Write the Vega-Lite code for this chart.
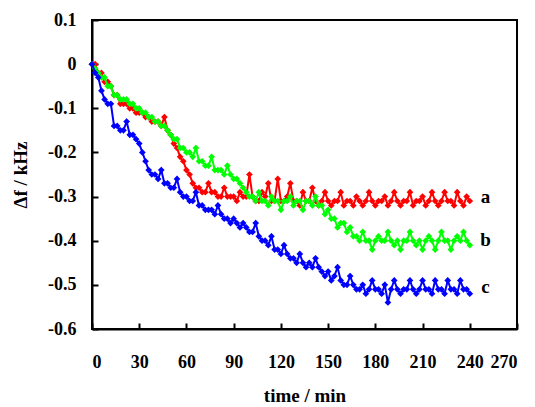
{
  "$schema": "https://vega.github.io/schema/vega-lite/v6.json",
  "width": 425,
  "height": 309,
  "autosize": "none",
  "padding": {"left": 92, "top": 20, "right": 18, "bottom": 78},
  "background": "white",
  "config": {
    "view": {"stroke": "black", "strokeWidth": 2},
    "axis": {
      "domainColor": "black", "domainWidth": 2, "tickColor": "black", "tickWidth": 2, "tickSize": -6,
      "grid": false, "labelFont": "Liberation Serif", "labelFontWeight": "bold", "labelFontSize": 18, "labelColor": "black",
      "titleFont": "Liberation Serif", "titleFontWeight": "bold", "titleFontSize": 19, "titleColor": "black"
    }
  },
  "datasets": {
    "a": [{"t":0,"v":0},{"t":2,"v":0},{"t":4,"v":-0.02},{"t":6,"v":-0.02},{"t":8,"v":-0.04},{"t":10,"v":-0.04},{"t":12,"v":-0.05},{"t":14,"v":-0.07},{"t":16,"v":-0.07},{"t":18,"v":-0.09},{"t":20,"v":-0.09},{"t":22,"v":-0.09},{"t":24,"v":-0.1},{"t":26,"v":-0.1},{"t":28,"v":-0.11},{"t":30,"v":-0.11},{"t":32,"v":-0.11},{"t":34,"v":-0.12},{"t":36,"v":-0.12},{"t":38,"v":-0.13},{"t":40,"v":-0.13},{"t":42,"v":-0.13},{"t":44,"v":-0.14},{"t":46,"v":-0.12},{"t":48,"v":-0.15},{"t":50,"v":-0.16},{"t":52,"v":-0.18},{"t":54,"v":-0.19},{"t":56,"v":-0.21},{"t":58,"v":-0.22},{"t":60,"v":-0.24},{"t":62,"v":-0.25},{"t":64,"v":-0.27},{"t":66,"v":-0.28},{"t":68,"v":-0.28},{"t":70,"v":-0.29},{"t":72,"v":-0.29},{"t":74,"v":-0.27},{"t":76,"v":-0.29},{"t":78,"v":-0.29},{"t":80,"v":-0.3},{"t":82,"v":-0.3},{"t":84,"v":-0.28},{"t":86,"v":-0.3},{"t":88,"v":-0.3},{"t":90,"v":-0.3},{"t":92,"v":-0.31},{"t":94,"v":-0.29},{"t":96,"v":-0.3},{"t":98,"v":-0.3},{"t":100,"v":-0.25},{"t":102,"v":-0.3},{"t":104,"v":-0.31},{"t":106,"v":-0.31},{"t":108,"v":-0.29},{"t":110,"v":-0.3},{"t":112,"v":-0.27},{"t":114,"v":-0.31},{"t":116,"v":-0.31},{"t":118,"v":-0.26},{"t":120,"v":-0.31},{"t":122,"v":-0.31},{"t":124,"v":-0.3},{"t":126,"v":-0.27},{"t":128,"v":-0.31},{"t":130,"v":-0.31},{"t":132,"v":-0.32},{"t":134,"v":-0.29},{"t":136,"v":-0.31},{"t":138,"v":-0.31},{"t":140,"v":-0.28},{"t":142,"v":-0.31},{"t":144,"v":-0.32},{"t":146,"v":-0.31},{"t":148,"v":-0.29},{"t":150,"v":-0.31},{"t":152,"v":-0.32},{"t":154,"v":-0.31},{"t":156,"v":-0.31},{"t":158,"v":-0.29},{"t":160,"v":-0.32},{"t":162,"v":-0.31},{"t":164,"v":-0.31},{"t":166,"v":-0.32},{"t":168,"v":-0.3},{"t":170,"v":-0.31},{"t":172,"v":-0.32},{"t":174,"v":-0.31},{"t":176,"v":-0.29},{"t":178,"v":-0.31},{"t":180,"v":-0.32},{"t":182,"v":-0.31},{"t":184,"v":-0.31},{"t":186,"v":-0.3},{"t":188,"v":-0.32},{"t":190,"v":-0.31},{"t":192,"v":-0.29},{"t":194,"v":-0.31},{"t":196,"v":-0.32},{"t":198,"v":-0.31},{"t":200,"v":-0.31},{"t":202,"v":-0.29},{"t":204,"v":-0.32},{"t":206,"v":-0.31},{"t":208,"v":-0.31},{"t":210,"v":-0.3},{"t":212,"v":-0.32},{"t":214,"v":-0.31},{"t":216,"v":-0.29},{"t":218,"v":-0.31},{"t":220,"v":-0.32},{"t":222,"v":-0.31},{"t":224,"v":-0.29},{"t":226,"v":-0.31},{"t":228,"v":-0.31},{"t":230,"v":-0.32},{"t":232,"v":-0.29},{"t":234,"v":-0.31},{"t":236,"v":-0.32},{"t":238,"v":-0.3},{"t":240,"v":-0.31}],
    "b": [{"t":0,"v":0},{"t":2,"v":-0.01},{"t":4,"v":-0.02},{"t":6,"v":-0.03},{"t":8,"v":-0.03},{"t":10,"v":-0.05},{"t":12,"v":-0.05},{"t":14,"v":-0.07},{"t":16,"v":-0.07},{"t":18,"v":-0.08},{"t":20,"v":-0.08},{"t":22,"v":-0.08},{"t":24,"v":-0.09},{"t":26,"v":-0.09},{"t":28,"v":-0.1},{"t":30,"v":-0.1},{"t":32,"v":-0.11},{"t":34,"v":-0.11},{"t":36,"v":-0.12},{"t":38,"v":-0.12},{"t":40,"v":-0.13},{"t":42,"v":-0.13},{"t":44,"v":-0.14},{"t":46,"v":-0.14},{"t":48,"v":-0.15},{"t":50,"v":-0.16},{"t":52,"v":-0.17},{"t":54,"v":-0.17},{"t":56,"v":-0.19},{"t":58,"v":-0.19},{"t":60,"v":-0.2},{"t":62,"v":-0.2},{"t":64,"v":-0.21},{"t":66,"v":-0.19},{"t":68,"v":-0.22},{"t":70,"v":-0.22},{"t":72,"v":-0.23},{"t":74,"v":-0.23},{"t":76,"v":-0.21},{"t":78,"v":-0.24},{"t":80,"v":-0.24},{"t":82,"v":-0.24},{"t":84,"v":-0.25},{"t":86,"v":-0.23},{"t":88,"v":-0.25},{"t":90,"v":-0.26},{"t":92,"v":-0.26},{"t":94,"v":-0.27},{"t":96,"v":-0.28},{"t":98,"v":-0.29},{"t":100,"v":-0.3},{"t":102,"v":-0.3},{"t":104,"v":-0.31},{"t":106,"v":-0.29},{"t":108,"v":-0.31},{"t":110,"v":-0.31},{"t":112,"v":-0.32},{"t":114,"v":-0.3},{"t":116,"v":-0.31},{"t":118,"v":-0.31},{"t":120,"v":-0.33},{"t":122,"v":-0.31},{"t":124,"v":-0.31},{"t":126,"v":-0.3},{"t":128,"v":-0.32},{"t":130,"v":-0.31},{"t":132,"v":-0.31},{"t":134,"v":-0.33},{"t":136,"v":-0.31},{"t":138,"v":-0.31},{"t":140,"v":-0.32},{"t":142,"v":-0.3},{"t":144,"v":-0.32},{"t":146,"v":-0.32},{"t":148,"v":-0.34},{"t":150,"v":-0.33},{"t":152,"v":-0.35},{"t":154,"v":-0.35},{"t":156,"v":-0.37},{"t":158,"v":-0.36},{"t":160,"v":-0.36},{"t":162,"v":-0.38},{"t":164,"v":-0.37},{"t":166,"v":-0.39},{"t":168,"v":-0.39},{"t":170,"v":-0.4},{"t":172,"v":-0.38},{"t":174,"v":-0.4},{"t":176,"v":-0.4},{"t":178,"v":-0.42},{"t":180,"v":-0.4},{"t":182,"v":-0.39},{"t":184,"v":-0.4},{"t":186,"v":-0.4},{"t":188,"v":-0.38},{"t":190,"v":-0.4},{"t":192,"v":-0.41},{"t":194,"v":-0.4},{"t":196,"v":-0.42},{"t":198,"v":-0.4},{"t":200,"v":-0.4},{"t":202,"v":-0.38},{"t":204,"v":-0.4},{"t":206,"v":-0.41},{"t":208,"v":-0.4},{"t":210,"v":-0.42},{"t":212,"v":-0.4},{"t":214,"v":-0.39},{"t":216,"v":-0.4},{"t":218,"v":-0.42},{"t":220,"v":-0.4},{"t":222,"v":-0.38},{"t":224,"v":-0.4},{"t":226,"v":-0.4},{"t":228,"v":-0.42},{"t":230,"v":-0.4},{"t":232,"v":-0.39},{"t":234,"v":-0.4},{"t":236,"v":-0.38},{"t":238,"v":-0.4},{"t":240,"v":-0.41}],
    "c": [{"t":0,"v":0},{"t":2,"v":-0.02},{"t":4,"v":-0.03},{"t":6,"v":-0.06},{"t":8,"v":-0.08},{"t":10,"v":-0.09},{"t":12,"v":-0.09},{"t":14,"v":-0.14},{"t":16,"v":-0.14},{"t":18,"v":-0.15},{"t":20,"v":-0.15},{"t":22,"v":-0.13},{"t":24,"v":-0.16},{"t":26,"v":-0.16},{"t":28,"v":-0.17},{"t":30,"v":-0.18},{"t":32,"v":-0.2},{"t":34,"v":-0.22},{"t":36,"v":-0.24},{"t":38,"v":-0.25},{"t":40,"v":-0.25},{"t":42,"v":-0.26},{"t":44,"v":-0.24},{"t":46,"v":-0.27},{"t":48,"v":-0.27},{"t":50,"v":-0.28},{"t":52,"v":-0.28},{"t":54,"v":-0.26},{"t":56,"v":-0.29},{"t":58,"v":-0.3},{"t":60,"v":-0.3},{"t":62,"v":-0.31},{"t":64,"v":-0.31},{"t":66,"v":-0.29},{"t":68,"v":-0.32},{"t":70,"v":-0.32},{"t":72,"v":-0.33},{"t":74,"v":-0.33},{"t":76,"v":-0.33},{"t":78,"v":-0.34},{"t":80,"v":-0.32},{"t":82,"v":-0.34},{"t":84,"v":-0.35},{"t":86,"v":-0.35},{"t":88,"v":-0.36},{"t":90,"v":-0.35},{"t":92,"v":-0.36},{"t":94,"v":-0.37},{"t":96,"v":-0.36},{"t":98,"v":-0.37},{"t":100,"v":-0.38},{"t":102,"v":-0.38},{"t":104,"v":-0.36},{"t":106,"v":-0.39},{"t":108,"v":-0.4},{"t":110,"v":-0.4},{"t":112,"v":-0.41},{"t":114,"v":-0.39},{"t":116,"v":-0.42},{"t":118,"v":-0.42},{"t":120,"v":-0.43},{"t":122,"v":-0.41},{"t":124,"v":-0.43},{"t":126,"v":-0.44},{"t":128,"v":-0.44},{"t":130,"v":-0.45},{"t":132,"v":-0.43},{"t":134,"v":-0.45},{"t":136,"v":-0.46},{"t":138,"v":-0.45},{"t":140,"v":-0.46},{"t":142,"v":-0.44},{"t":144,"v":-0.46},{"t":146,"v":-0.47},{"t":148,"v":-0.48},{"t":150,"v":-0.47},{"t":152,"v":-0.49},{"t":154,"v":-0.48},{"t":156,"v":-0.46},{"t":158,"v":-0.49},{"t":160,"v":-0.5},{"t":162,"v":-0.5},{"t":164,"v":-0.48},{"t":166,"v":-0.5},{"t":168,"v":-0.51},{"t":170,"v":-0.51},{"t":172,"v":-0.5},{"t":174,"v":-0.52},{"t":176,"v":-0.51},{"t":178,"v":-0.49},{"t":180,"v":-0.51},{"t":182,"v":-0.51},{"t":184,"v":-0.52},{"t":186,"v":-0.5},{"t":188,"v":-0.54},{"t":190,"v":-0.51},{"t":192,"v":-0.49},{"t":194,"v":-0.51},{"t":196,"v":-0.52},{"t":198,"v":-0.51},{"t":200,"v":-0.51},{"t":202,"v":-0.49},{"t":204,"v":-0.51},{"t":206,"v":-0.52},{"t":208,"v":-0.51},{"t":210,"v":-0.49},{"t":212,"v":-0.51},{"t":214,"v":-0.51},{"t":216,"v":-0.52},{"t":218,"v":-0.49},{"t":220,"v":-0.51},{"t":222,"v":-0.51},{"t":224,"v":-0.52},{"t":226,"v":-0.49},{"t":228,"v":-0.51},{"t":230,"v":-0.51},{"t":232,"v":-0.52},{"t":234,"v":-0.49},{"t":236,"v":-0.51},{"t":238,"v":-0.51},{"t":240,"v":-0.52}],
    "labels": [{"t":250,"v":-0.3,"k":"a"},{"t":250,"v":-0.398,"k":"b"},{"t":250,"v":-0.505,"k":"c"}]
  },
  "encoding": {
    "x": {"field": "t", "type": "quantitative", "scale": {"domain": [0, 270], "nice": false},
      "axis": {"title": "time / min", "values": [0,30,60,90,120,150,180,210,240,270], "labelPadding": 30, "titlePadding": 15,
        "labelFont": "Liberation Serif", "titleFont": "Liberation Serif"}},
    "y": {"field": "v", "type": "quantitative", "scale": {"domain": [-0.6, 0.1], "nice": false, "zero": false},
      "axis": {"title": "Δf / kHz", "values": [-0.6,-0.5,-0.4,-0.3,-0.2,-0.1,0,0.1],
        "labelExpr": "datum.value == 0 ? '0' : (datum.value < 0 ? '-' + format(-datum.value, '.1f') : format(datum.value, '.1f'))",
        "labelPadding": 22, "titlePadding": 17, "labelFont": "Liberation Serif", "titleFont": "Liberation Serif"}}
  },
  "layer": [
    {"data": {"name": "a"}, "mark": {"type": "line", "color": "#ff0000", "strokeWidth": 2, "point": {"filled": true, "shape": "diamond", "size": 45, "color": "#ff0000"}}},
    {"data": {"name": "b"}, "mark": {"type": "line", "color": "#00ff00", "strokeWidth": 2, "point": {"filled": true, "shape": "diamond", "size": 45, "color": "#00ff00"}}},
    {"data": {"name": "c"}, "mark": {"type": "line", "color": "#0000ff", "strokeWidth": 2, "point": {"filled": true, "shape": "diamond", "size": 45, "color": "#0000ff"}}},
    {"data": {"name": "labels"}, "mark": {"type": "text", "font": "Liberation Serif", "fontWeight": "bold", "fontSize": 19, "color": "black", "align": "center", "baseline": "middle"},
      "encoding": {"text": {"field": "k"}}}
  ]
}
